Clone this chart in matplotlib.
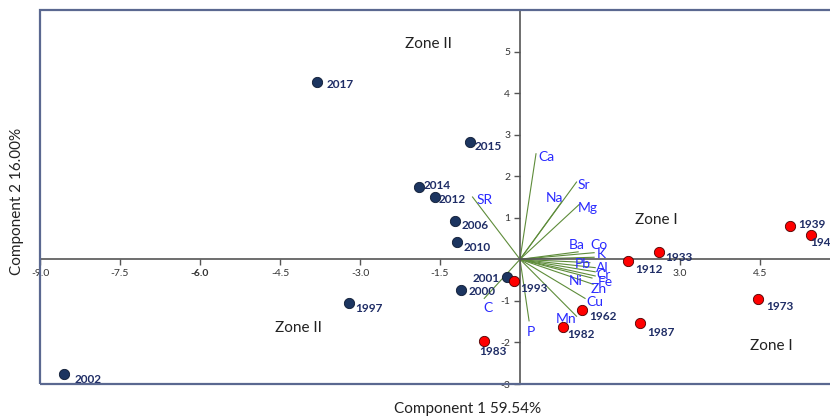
import matplotlib
matplotlib.use("Agg")
import matplotlib.pyplot as plt
from matplotlib.patches import Rectangle

plt.rcParams['font.family'] = ['Lato', 'DejaVu Sans']

# PCA scores: sampling years on components 1 and 2
years_a = ["2017", "2015", "2014", "2012", "2006", "2010", "2001", "2000", "1997", "2002"]
pc1_a = [-3.80, -0.94, -1.89, -1.60, -1.22, -1.19, -0.24, -1.10, -3.20, -8.55]
pc2_a = [4.27, 2.83, 1.74, 1.51, 0.92, 0.42, -0.43, -0.73, -1.05, -2.77]

years_b = ["1993", "1983", "1982", "1962", "1987", "1912", "1933", "1973", "1939", "1949"]
pc1_b = [-0.11, -0.68, 0.80, 1.17, 2.25, 2.03, 2.61, 4.46, 5.06, 5.45]
pc2_b = [-0.53, -1.97, -1.63, -1.23, -1.54, -0.05, 0.18, -0.96, 0.81, 0.58]

# loadings of the measured variables
variables = ["Ca", "Sr", "Na", "Mg", "SR", "Ba", "Co", "K", "Pb", "Al",
             "Cr", "Fe", "Ni", "Zn", "Cu", "Mn", "P", "C"]
load1 = [0.30, 1.06, 0.78, 1.11, -0.89, 1.09, 1.39, 1.39, 1.31, 1.41,
         1.41, 1.41, 1.35, 1.37, 1.22, 1.06, 0.17, -0.67]
load2 = [2.54, 1.86, 1.38, 1.32, 1.50, 0.18, 0.16, 0.05, -0.08, -0.20,
         -0.30, -0.40, -0.45, -0.60, -0.94, -1.37, -1.48, -0.94]

xticks = [-9.0, -7.5, -6.0, -4.5, -3.0, -1.5, 3.0, 4.5]
yticks = [-3, -2, -1, 1, 2, 3, 4, 5]

# label placement in pixels relative to each point (dx, dy, ha)
year_offsets = {
    "2017": (9, -3, "left"), "2015": (5, -5, "left"), "2014": (4, 2, "left"),
    "2012": (4, -3, "left"), "2006": (7, -4, "left"), "2010": (7, -6, "left"),
    "2001": (-8, -1, "right"), "2000": (7, -2, "left"), "1997": (6, -6, "left"),
    "2002": (11, -5, "left"), "1993": (6, -7, "left"), "1983": (-4, -10, "left"),
    "1982": (5, -7, "left"), "1962": (7, -6, "left"), "1987": (7, -9, "left"),
    "1912": (7, -8, "left"), "1933": (6, -6, "left"), "1973": (8, -7, "left"),
    "1939": (8, 1, "left"), "1949": (0, -7, "left"),
}
var_offsets = {
    "Ca": (2, -3, "left"), "Sr": (1, -3, "left"), "Na": (2, 4, "right"),
    "Mg": (-1, -4, "left"), "SR": (4, -3, "left"), "Ba": (-1, 7, "center"),
    "Co": (5, 8, "center"), "K": (7, 3, "center"), "Pb": (-7, -1, "center"),
    "Al": (7, 0, "center"), "Cr": (8, -3, "center"), "Fe": (10, -6, "center"),
    "Ni": (-16, -3, "center"), "Zn": (6, -5, "center"), "Cu": (10, -4, "center"),
    "Mn": (-10, -3, "center"), "P": (2, -11, "center"), "C": (4, -10, "center"),
}

fig = plt.figure(figsize=(8.3, 4.17), dpi=100)
ax = fig.add_axes([40 / 830, 1 - 384 / 417, 800 / 830, 374 / 417])
ax.set_xlim(-9, 6)
ax.set_ylim(-3, 6)

# axes through the origin
for side in ("top", "right"):
    ax.spines[side].set_visible(False)
ax.spines["left"].set_position(("data", 0))
ax.spines["bottom"].set_position(("data", 0))
for side in ("left", "bottom"):
    ax.spines[side].set_color("#555555")
    ax.spines[side].set_linewidth(1.2)
ax.add_patch(Rectangle((0, 0), 1, 1, transform=ax.transAxes, fill=False,
                       edgecolor="#5a6890", linewidth=1.6, clip_on=False, zorder=5))

ax.set_xticks(xticks)
ax.set_xticklabels([f"{t:.1f}" for t in xticks])
ax.set_yticks(yticks)
ax.set_yticklabels([str(t) for t in yticks])
ax.tick_params(axis="both", direction="out", length=4, width=1, color="#555555",
               labelsize=7.5, labelcolor="#333333", pad=3)
for lab in ax.get_xticklabels():
    if lab.get_text() == "-6.0":
        lab.set_fontweight("bold")

# loading vectors
for name, lx, ly in zip(variables, load1, load2):
    ax.plot([0, lx], [0, ly], color="#5e8c3a", linewidth=0.8, zorder=2)
    dx, dy, ha = var_offsets[name]
    ax.annotate(name, (lx, ly), xytext=(dx, dy), textcoords="offset pixels",
                ha=ha, va="center", fontsize=10, color="#2a2aff", zorder=3)

# scores
ax.scatter(pc1_a, pc2_a, s=55, color="#1c3560", edgecolors="#0d1a33",
           linewidths=0.6, zorder=4)
ax.scatter(pc1_b, pc2_b, s=55, color="#ff0000", edgecolors="#4a0000",
           linewidths=0.6, zorder=4)
for names, xs, ys in ((years_a, pc1_a, pc2_a), (years_b, pc1_b, pc2_b)):
    for name, px, py in zip(names, xs, ys):
        dx, dy, ha = year_offsets[name]
        ax.annotate(name, (px, py), xytext=(dx, dy), textcoords="offset pixels",
                    ha=ha, va="center", fontsize=8.5, fontweight="bold",
                    color="#1f2d66", zorder=4)

# zone captions
zone_kw = dict(fontsize=11, color="#222222", ha="center", va="center")
ax.annotate("Zone II", (428 / 830, 1 - 44 / 417), xycoords="figure fraction", **zone_kw)
ax.annotate("Zone II", (298 / 830, 1 - 328 / 417), xycoords="figure fraction", **zone_kw)
ax.annotate("Zone I", (656 / 830, 1 - 220 / 417), xycoords="figure fraction", **zone_kw)
ax.annotate("Zone I", (771 / 830, 1 - 346 / 417), xycoords="figure fraction", **zone_kw)

fig.text(468 / 830, 1 - 409 / 417, "Component 1 59.54%", fontsize=11,
         color="#222222", ha="center", va="center")
fig.text(17 / 830, 1 - 201 / 417, "Component 2 16.00%", fontsize=11,
         color="#222222", ha="center", va="center", rotation=90)

fig.savefig("out.png", dpi=100)
